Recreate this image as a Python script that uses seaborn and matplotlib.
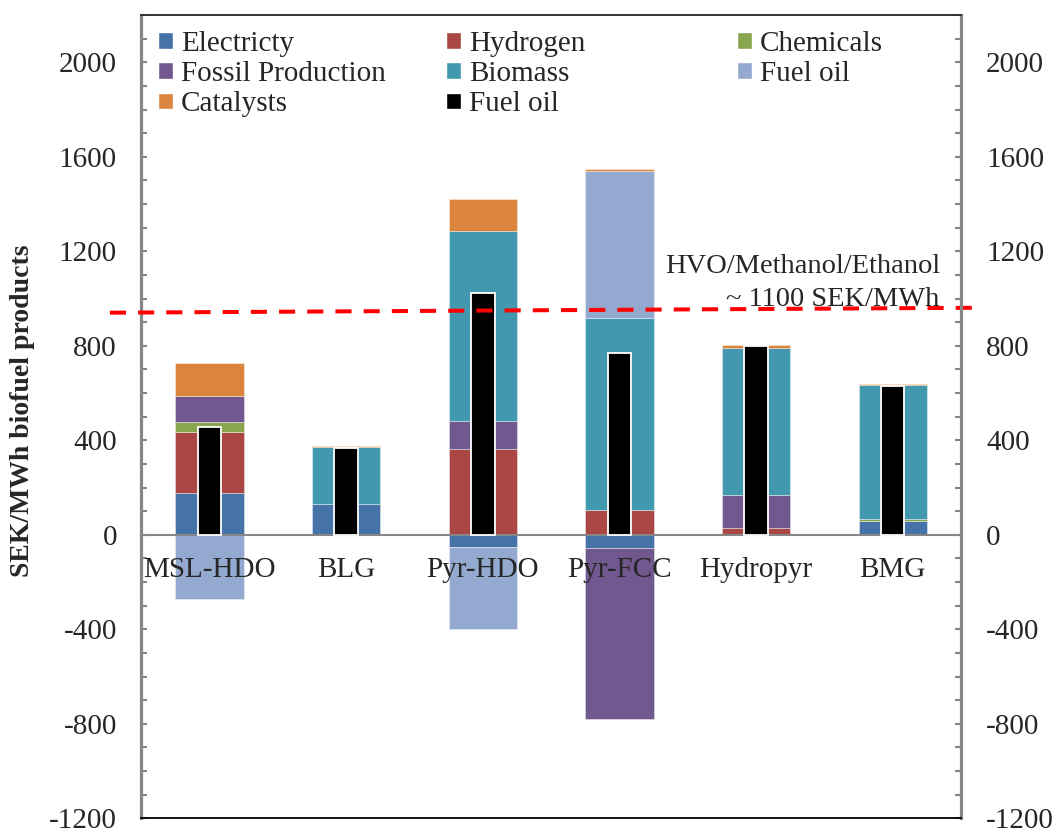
import numpy as np
import pandas as pd
import matplotlib
matplotlib.use("Agg")
import matplotlib.pyplot as plt
from matplotlib.patches import Patch
from matplotlib.ticker import MultipleLocator, FixedLocator
import seaborn as sns

# ---- data ----
categories = ["MSL-HDO", "BLG", "Pyr-HDO", "Pyr-FCC", "Hydropyr", "BMG"]

electricity = [175, 131, -52, -54, 0, 57]
hydrogen = [260, 0, 362, 106, 28, 0]
chemicals = [44, 0, 0, 0, 0, 10]
fossil_production = [108, 0, 121, -727, 139, 0]
biomass = [0, 241, 801, 810, 625, 567]
fuel_oil = [-271, 0, -346, 623, 0, 0]
catalysts = [140, 4, 136, 10, 11, 4]
fuel_oil_price = [455, 368, 1022, 768, 797, 630]

series_names = ["Electricty", "Hydrogen", "Chemicals", "Fossil Production",
                "Biomass", "Fuel oil", "Catalysts"]
series_values = [electricity, hydrogen, chemicals, fossil_production,
                 biomass, fuel_oil, catalysts]
series_colors = ["#4572A7", "#AA4643", "#89A54E", "#71588F",
                 "#4198AF", "#93A9CF", "#DB843D"]

ref_line_x = [-0.73, 5.65]
ref_line_y = [940, 961]
ref_text = ["HVO/Methanol/Ethanol", "~ 1100 SEK/MWh"]

# ---- style ----
sns.set_theme(style="white")
plt.rcParams["font.family"] = ["Liberation Serif", "DejaVu Serif"]
plt.rcParams["axes.unicode_minus"] = False

W, H = 1058, 833
fig = plt.figure(figsize=(W / 100, H / 100), dpi=100)
ax = fig.add_axes([141.3 / W, 1 - 818.3 / H, (961 - 141.3) / W, (818.3 - 15) / H])
ax.set_axisbelow(False)

grey = "#868686"
x = np.arange(len(categories))

# black fuel oil bars through seaborn
price_df = pd.DataFrame({"process": categories, "price": fuel_oil_price})
sns.barplot(data=price_df, x="process", y="price", order=categories,
            color="black", width=0.172, edgecolor="white", linewidth=1.3,
            errorbar=None, zorder=4, ax=ax)

# stacked cost components
pos_bottom = np.zeros(len(categories))
neg_bottom = np.zeros(len(categories))
for name, vals, col in zip(series_names, series_values, series_colors):
    vals = np.array(vals, dtype=float)
    bottom = np.where(vals >= 0, pos_bottom, neg_bottom)
    mask = vals != 0
    ax.bar(x[mask], vals[mask], width=0.5, bottom=bottom[mask], color=col,
           edgecolor=(1, 1, 1, 0.45), linewidth=0.6, zorder=2)
    pos_bottom += np.where(vals > 0, vals, 0)
    neg_bottom += np.where(vals < 0, vals, 0)

# reference price line
ax.plot(ref_line_x, ref_line_y, color="#FF0000", lw=2.9, dashes=(4, 3),
        zorder=5, clip_on=False)
ax.text(5.345, 1110, ref_text[0], ha="right", va="baseline", fontsize=20.5, zorder=6)
ax.text(5.345, 967, ref_text[1], ha="right", va="baseline", fontsize=20.5, zorder=3)

# axes
ax.set_xlim(-0.5, len(categories) - 0.5)
ax.set_ylim(-1200, 2200)
ax.set_xlabel("")
ax.set_ylabel("SEK/MWh biofuel products", fontsize=20, fontweight="bold")
ax.yaxis.set_label_coords(-0.1296, 0.507)

ax.set_yticks(np.arange(-1200, 2001, 400))
ax.yaxis.set_minor_locator(MultipleLocator(100))
ax.tick_params(axis="y", which="both", direction="in", length=4.5, width=1.5,
               color=grey, labelsize=21, pad=17.5)
ax.set_xticks(x)
ax.set_xticklabels(categories)
ax.xaxis.set_minor_locator(FixedLocator(np.arange(0.5, len(categories) - 0.5, 1)))
ax.tick_params(axis="x", which="major", length=0, labelsize=21, pad=16)
ax.tick_params(axis="x", which="minor", direction="out", length=5, width=1.5, color=grey)
ax.xaxis.set_zorder(6)

ax.spines["bottom"].set_position(("data", 0))
ax.spines["bottom"].set_color(grey)
ax.spines["bottom"].set_linewidth(1.5)
ax.spines["bottom"].set_zorder(3)
ax.spines["left"].set_color(grey)
ax.spines["left"].set_linewidth(2.3)
ax.spines["top"].set_visible(False)
ax.spines["right"].set_visible(False)

# secondary axis (same scale) on the right, plus the outer frame
ax2 = ax.twinx()
ax2.set_ylim(-1200, 2200)
ax2.set_yticks(np.arange(-1200, 2001, 400))
ax2.yaxis.set_minor_locator(MultipleLocator(100))
ax2.tick_params(axis="y", which="both", direction="in", length=4.5, width=1.5,
                color=grey, labelsize=21, pad=18)
ax2.grid(False)
ax2.spines["left"].set_visible(False)
ax2.spines["right"].set_color(grey)
ax2.spines["right"].set_linewidth(2.3)
ax2.spines["top"].set_color("#333333")
ax2.spines["top"].set_linewidth(1.4)
ax2.spines["bottom"].set_color("black")
ax2.spines["bottom"].set_linewidth(1.3)

# legend, three columns laid out like the original
handles = {n: Patch(facecolor=c) for n, c in zip(series_names, series_colors)}
black_handle = Patch(facecolor="black")
columns = [
    ([handles["Electricty"], handles["Fossil Production"], handles["Catalysts"]],
     ["Electricty", "Fossil Production", "Catalysts"], 158),
    ([handles["Hydrogen"], handles["Biomass"], black_handle],
     ["Hydrogen", "Biomass", "Fuel oil"], 446),
    ([handles["Chemicals"], handles["Fuel oil"]],
     ["Chemicals", "Fuel oil"], 737),
]
for hs, labels, xpix in columns:
    leg = fig.legend(hs, labels, loc="upper left",
                     bbox_to_anchor=(xpix / W, 1 - 31 / H),
                     frameon=False, fontsize=21, borderpad=0, borderaxespad=0,
                     handlelength=0.5, handleheight=0.5, handletextpad=0.28,
                     labelspacing=0.14)

fig.savefig("out.png", dpi=100)
